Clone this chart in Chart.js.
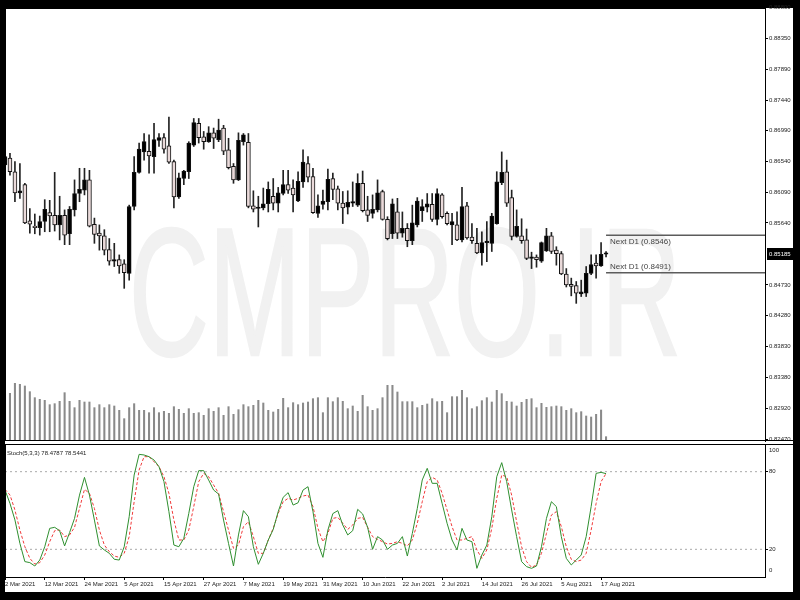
<!DOCTYPE html>
<html><head><meta charset="utf-8">
<script src="https://cdn.jsdelivr.net/npm/chart.js@4.4.0/dist/chart.umd.min.js"></script>
<style>
html,body{margin:0;padding:0;background:#000;width:800px;height:600px;overflow:hidden}
#panel{position:absolute;left:5px;top:8px;width:788px;height:584px;background:#fff}
#c1{position:absolute;left:0;top:0;width:800px;height:442px}
#c2{position:absolute;left:0;top:442px;width:800px;height:158px}
</style></head><body>
<div id="panel"></div>
<canvas id="c1" width="800" height="442"></canvas>
<canvas id="c2" width="800" height="158"></canvas>
<script>
// ---- data (daily, 2 Mar 2021 .. 18 Aug 2021) ----
const open = [
0.8649,0.8659,0.8639,0.8608,0.8620,0.8567,0.8558,0.8557,0.8566,0.8579,
0.8575,0.8561,0.8575,0.8548,0.8583,0.8607,0.8612,0.8627,0.8562,0.8549,
0.8545,0.8525,0.8508,0.8510,0.8504,0.8490,0.8588,0.8638,0.8668,0.8669,
0.8661,0.8685,0.8689,0.8677,0.8654,0.8602,0.8629,0.8639,0.8678,0.8710,
0.8690,0.8683,0.8696,0.8686,0.8703,0.8671,0.8647,0.8627,0.8683,0.8682,
0.8589,0.8585,0.8586,0.8592,0.8603,0.8593,0.8607,0.8620,0.8615,0.8596,
0.8624,0.8651,0.8632,0.8578,0.8591,0.8595,0.8629,0.8614,0.8593,0.8587,
0.8593,0.8590,0.8622,0.8583,0.8578,0.8583,0.8610,0.8569,0.8548,0.8580,
0.8549,0.8556,0.8538,0.8561,0.8582,0.8587,0.8591,0.8569,0.8605,0.8578,
0.8561,0.8561,0.8539,0.8589,0.8543,0.8534,0.8520,0.8535,0.8534,0.8563,
0.8623,0.8639,0.8601,0.8544,0.8545,0.8539,0.8512,0.8514,0.8508,0.8523,
0.8545,0.8524,0.8519,0.8489,0.8474,0.8472,0.8460,0.8461,0.8490,0.8505,
0.8501,0.85180];
const high = [
0.8666,0.8666,0.8654,0.8651,0.8622,0.8585,0.8577,0.8574,0.8598,0.8597,
0.8638,0.8603,0.8583,0.8588,0.8627,0.8644,0.8644,0.8641,0.8571,0.8561,
0.8554,0.8541,0.8534,0.8517,0.8510,0.8590,0.8661,0.8681,0.8695,0.8693,
0.8710,0.8695,0.8695,0.8719,0.8656,0.8637,0.8641,0.8683,0.8717,0.8717,
0.8698,0.8705,0.8703,0.8716,0.8707,0.8688,0.8651,0.8696,0.8695,0.8695,
0.8611,0.8603,0.8615,0.8624,0.8629,0.8616,0.8641,0.8641,0.8627,0.8639,
0.8671,0.8661,0.8644,0.8605,0.8612,0.8643,0.8637,0.8618,0.8610,0.8611,
0.8624,0.8636,0.8640,0.8603,0.8605,0.8627,0.8612,0.8573,0.8599,0.8600,
0.8580,0.8563,0.8590,0.8601,0.8598,0.8607,0.8607,0.8614,0.8607,0.8580,
0.8578,0.8580,0.8616,0.8594,0.8563,0.8556,0.8551,0.8566,0.8578,0.8639,
0.8668,0.8656,0.8612,0.8583,0.8570,0.8555,0.8521,0.8517,0.8536,0.8556,
0.8550,0.8529,0.8522,0.8497,0.8483,0.8478,0.8480,0.8500,0.8517,0.8517,
0.8535,0.8522];
const low = [
0.8644,0.8634,0.8595,0.8600,0.8563,0.8549,0.8548,0.8546,0.8551,0.8551,
0.8552,0.8539,0.8532,0.8532,0.8574,0.8595,0.8605,0.8558,0.8534,0.8524,
0.8517,0.8502,0.8500,0.8490,0.8468,0.8480,0.8583,0.8637,0.8656,0.8637,
0.8637,0.8676,0.8666,0.8651,0.8586,0.8600,0.8620,0.8629,0.8676,0.8681,
0.8672,0.8682,0.8673,0.8683,0.8664,0.8643,0.8622,0.8626,0.8678,0.8586,
0.8580,0.8558,0.8583,0.8580,0.8583,0.8580,0.8605,0.8607,0.8580,0.8595,
0.8616,0.8624,0.8578,0.8572,0.8584,0.8583,0.8598,0.8583,0.8563,0.8577,
0.8588,0.8588,0.8580,0.8566,0.8571,0.8580,0.8568,0.8539,0.8541,0.8541,
0.8543,0.8529,0.8532,0.8558,0.8566,0.8580,0.8566,0.8561,0.8571,0.8561,
0.8532,0.8538,0.8536,0.8540,0.8534,0.8519,0.8502,0.8507,0.8522,0.8562,
0.8620,0.8588,0.8539,0.8543,0.8534,0.8510,0.8497,0.8499,0.8506,0.8522,
0.8519,0.8502,0.8488,0.8470,0.8457,0.8446,0.8456,0.8456,0.8488,0.8483,
0.8500,0.8514];
const close = [
0.8661,0.8639,0.8608,0.8611,0.8564,0.8562,0.8557,0.8566,0.8584,0.8574,
0.8561,0.8575,0.8546,0.8584,0.8607,0.8613,0.8627,0.8559,0.8547,0.8545,
0.8524,0.8508,0.8510,0.8501,0.8491,0.8588,0.8638,0.8672,0.8683,0.8662,
0.8686,0.8689,0.8672,0.8653,0.8602,0.8630,0.8640,0.8681,0.8711,0.8689,
0.8683,0.8696,0.8688,0.8700,0.8669,0.8645,0.8627,0.8685,0.8693,0.8588,
0.8584,0.8587,0.8592,0.8613,0.8593,0.8608,0.8620,0.8612,0.8605,0.8625,
0.8653,0.8631,0.8579,0.8589,0.8596,0.8628,0.8613,0.8593,0.8586,0.8594,
0.8595,0.8622,0.8582,0.8575,0.8584,0.8608,0.8569,0.8541,0.8592,0.8549,
0.8556,0.8538,0.8564,0.8596,0.8588,0.8592,0.8569,0.8607,0.8573,0.8563,
0.8566,0.8539,0.8588,0.8542,0.8538,0.8520,0.8535,0.8537,0.8574,0.8624,
0.8638,0.8593,0.8544,0.8559,0.8538,0.8512,0.8514,0.8510,0.8535,0.8545,
0.8522,0.8519,0.8489,0.8473,0.8471,0.8461,0.8463,0.8490,0.8503,0.8501,
0.8518,0.85185];
const volume = [
1400,1430,1730,1700,1650,1480,1300,1250,1220,1090,
1120,1190,1450,1190,1000,1220,1170,1170,1000,1090,
1000,1090,1050,920,670,1000,1120,920,920,850,
1000,850,890,830,1030,950,830,970,830,850,
770,970,890,1000,770,1030,800,940,1090,1030,
1070,1220,1140,920,870,950,1280,1000,1150,1090,
1140,1170,1270,1300,850,1300,1180,1300,1190,970,
1050,890,1370,1030,920,970,1300,1670,1670,1470,
1180,1180,1180,1000,1070,1110,1270,1180,1190,850,
1330,1330,1520,1300,970,1030,1210,1300,1170,1520,
1420,1190,1170,1050,1160,1250,1270,1000,1130,1010,
1030,1050,1030,920,970,850,880,750,720,800,
930,130];
const stochK = [
65.8,55.5,42.7,24.6,10.5,9.7,7.1,11.7,22,36.2,
37,34.4,22.6,32.9,43.9,61.9,75.6,61.9,42.6,22.6,
19.5,16.9,12.3,11.7,22,45.2,77.4,93.4,92.9,91.6,
89,83.9,72.3,49.1,23.3,22,28.5,47.8,68.4,80.8,
80.8,73.5,65.8,62.7,42.6,24.6,7.1,31.1,49.9,45.2,
22,8.4,16.9,27.2,35.4,49.1,60.2,63.8,54.2,56,
65.8,68.4,49.1,24.6,13.8,34.9,47.6,49.9,38.8,31.1,
34.4,50.9,47.3,37,20,29.8,27.2,20,23.3,24.6,
29.8,14.8,32.3,51.6,73.6,82.6,71,71,55.5,40.1,
27.2,19.5,36.2,27.2,25.9,5.3,15.6,23.3,45.2,76.1,
87,72.3,50.4,29.8,10.5,6.6,5.3,7.1,22,43.9,
56.8,53,29.8,13,7.9,11.7,15.6,29.8,53,78.7,
79.5,78.4787];
const stochD = [
66.3,62,50.4,34.9,22,13,8.6,9.7,15.6,25.9,
34.4,34.9,29.8,31.1,37,51.6,66.3,63.3,51.6,34.9,
23.3,18.2,14.8,13.8,16.9,29.8,56.8,81.3,91.6,91.6,
87.7,83.9,76.1,63.3,42.6,27.2,27.2,34.9,53,72.3,
78.7,76.1,69.7,63.3,49.1,34.9,20.8,23.3,37.5,41.3,
29.8,16.9,16.9,27.2,36.2,47.8,56.8,59.4,58.1,59.4,
61.2,62,53,36.2,25.9,32.3,43.9,44.7,40.1,35.4,
38.8,43.9,44.7,37,29.8,27.7,25.9,24.1,24.6,25.9,
24.6,22.6,27.2,40.1,56.8,72.3,75.6,73.6,63.3,50.4,
37.5,27.2,27.2,28.5,29.8,19.5,13,19.5,36.2,59.4,
77.4,76.1,61.9,41.3,22,10.5,6.1,7.9,16.9,32.3,
46.5,49.1,37.5,22,12.3,10.5,11.7,16.9,34.9,55.5,
72.3,78.5441];
const dateTickIndex = [0,8,16,24,32,40,48,56,64,72,80,88,96,104,112,120];
const dateTickLabels = ['2 Mar 2021','12 Mar 2021','24 Mar 2021','5 Apr 2021','15 Apr 2021','27 Apr 2021','7 May 2021','19 May 2021','31 May 2021','10 Jun 2021','22 Jun 2021','2 Jul 2021','14 Jul 2021','26 Jul 2021','5 Aug 2021','17 Aug 2021'];
const priceTicks = [0.82470,0.82920,0.83380,0.83830,0.84280,0.84730,0.85640,0.86090,0.86540,0.86990,0.87440,0.87890,0.88350,0.88800];
const nextD1 = [0.8546, 0.8491];
const stochLevels = [80, 20];
const stochEdgeLabels = [100, 0];
const watermarkText = 'CMPRO.IR';
const stochName = 'Stoch(5,3,3)';

// ---- rendering ----
const FONT = '"Liberation Sans", Arial, sans-serif';
const X_MAX = 153;
const N = open.length;
const lastIdx = N - 1;
const currentPrice = close[lastIdx];

const wickData = low.map((l, i) => ({x: i, y: [l, high[i]]}));
const bodyData = open.map((o, i) => ({x: i, y: [o, close[i]]}));
const bodyColors = open.map((o, i) => close[i] >= o ? '#000000' : '#eadada');
const volData = volume.map((v, i) => ({x: i, y: v}));

function noPad(s) { s.paddingTop = 0; s.paddingBottom = 0; s.paddingLeft = 0; s.paddingRight = 0; }

const wmPlugin = {
  id: 'wm',
  beforeDatasetsDraw(chart) {
    const ctx = chart.ctx;
    ctx.save();
    ctx.fillStyle = '#f1f1f1';
    ctx.strokeStyle = '#f1f1f1';
    ctx.lineWidth = 2.5;
    ctx.font = '181px ' + FONT;
    ctx.textAlign = 'center';
    ctx.textBaseline = 'alphabetic';
    ctx.translate(405, 355);
    ctx.scale(0.61, 1);
    ctx.fillText(watermarkText, 0, 0);
    ctx.strokeText(watermarkText, 0, 0);
    ctx.restore();
  }
};
const mainDeco = {
  id: 'mainDeco',
  afterDraw(chart) {
    const ctx = chart.ctx, a = chart.chartArea, ys = chart.scales.y;
    ctx.save();
    ctx.strokeStyle = '#000'; ctx.lineWidth = 1;
    ctx.beginPath();
    ctx.moveTo(a.left + 0.5, a.top); ctx.lineTo(a.left + 0.5, a.bottom);
    ctx.moveTo(a.left, a.top + 0.5); ctx.lineTo(a.right, a.top + 0.5);
    ctx.moveTo(a.left, a.bottom - 0.5); ctx.lineTo(a.right + 28, a.bottom - 0.5);
    ctx.stroke();
    ctx.fillStyle = '#444';
    ctx.font = '8px ' + FONT;
    ctx.textAlign = 'left';
    const y1 = ys.getPixelForValue(nextD1[0]);
    const y2 = ys.getPixelForValue(nextD1[1]);
    ctx.textBaseline = 'top';
    ctx.fillText('Next D1 (' + nextD1[0].toFixed(4) + ')', 610, y1 + 3);
    ctx.textBaseline = 'bottom';
    ctx.fillText('Next D1 (' + nextD1[1].toFixed(4) + ')', 610, y2 - 2);
    const yc = ys.getPixelForValue(currentPrice);
    ctx.fillStyle = '#000';
    ctx.fillRect(a.right + 2, Math.round(yc) - 6, 26, 12);
    ctx.fillStyle = '#fff';
    ctx.font = '6px ' + FONT;
    ctx.textBaseline = 'middle';
    ctx.fillText(currentPrice.toFixed(5), a.right + 4, yc);
    ctx.restore();
  }
};

new Chart(document.getElementById('c1'), {
  type: 'bar',
  data: {
    datasets: [
      {type: 'line', data: [{x: lastIdx, y: nextD1[0]}, {x: X_MAX, y: nextD1[0]}], borderColor: '#5c5c5c', borderWidth: 1.5, pointRadius: 0, order: 1},
      {type: 'line', data: [{x: lastIdx, y: nextD1[1]}, {x: X_MAX, y: nextD1[1]}], borderColor: '#5c5c5c', borderWidth: 1.5, pointRadius: 0, order: 1},
      {data: bodyData, backgroundColor: bodyColors, borderColor: '#111', borderWidth: 1, borderSkipped: false, barThickness: 4, minBarLength: 1.5, grouped: false, order: 2},
      {data: wickData, backgroundColor: '#222', barThickness: 1, grouped: false, order: 3},
      {data: volData, backgroundColor: '#8a8a8a', barThickness: 1.4, grouped: false, yAxisID: 'yv', order: 4}
    ]
  },
  options: {
    responsive: false, animation: false, devicePixelRatio: 1,
    layout: {padding: {left: 5, top: 8, right: 7, bottom: 1}},
    plugins: {legend: {display: false}, tooltip: {enabled: false}},
    scales: {
      x: {type: 'linear', min: 0, max: X_MAX, offset: false, display: false},
      y: {
        position: 'right', min: 0.82442, max: 0.88790,
        afterBuildTicks: s => { s.ticks = priceTicks.map(v => ({value: v})); },
        afterFit: s => { s.width = 28; noPad(s); },
        grid: {drawOnChartArea: false, drawTicks: true, tickLength: 3, color: '#000'},
        border: {display: true, color: '#000'},
        ticks: {autoSkip: false, padding: 1, color: '#222', font: {size: 6, family: FONT}, callback: v => Number(v).toFixed(5)}
      },
      yv: {display: false, min: 0, max: 12990}
    }
  },
  plugins: [wmPlugin, mainDeco]
});

const stochDeco = {
  id: 'stochDeco',
  afterDraw(chart) {
    const ctx = chart.ctx, a = chart.chartArea, ys = chart.scales.y;
    ctx.save();
    ctx.strokeStyle = '#000'; ctx.lineWidth = 1;
    ctx.beginPath();
    ctx.moveTo(a.left + 0.5, a.top); ctx.lineTo(a.left + 0.5, a.bottom);
    ctx.moveTo(a.left, a.top + 0.5); ctx.lineTo(a.right + 28, a.top + 0.5);
    ctx.stroke();
    ctx.fillStyle = '#222';
    ctx.font = '6px ' + FONT;
    ctx.textAlign = 'left'; ctx.textBaseline = 'middle';
    ctx.fillText(stochName + ' ' + stochK[lastIdx].toFixed(4) + ' ' + stochD[lastIdx].toFixed(4), 7, a.top + 9);
    ctx.fillText(String(stochEdgeLabels[0]), a.right + 4, ys.getPixelForValue(stochEdgeLabels[0]) + 5);
    ctx.fillText(String(stochEdgeLabels[1]), a.right + 4, ys.getPixelForValue(stochEdgeLabels[1]) - 5);
    ctx.restore();
  }
};

new Chart(document.getElementById('c2'), {
  type: 'line',
  data: {
    datasets: [
      {data: stochK.map((v, i) => ({x: i, y: v})), borderColor: '#2f8f2f', borderWidth: 1, pointRadius: 0, tension: 0, order: 1},
      {data: stochD.map((v, i) => ({x: i, y: v})), borderColor: '#f03a3a', borderWidth: 1, borderDash: [3, 2], pointRadius: 0, tension: 0, order: 2},
      ...stochLevels.map(l => ({data: [{x: 0, y: l}, {x: X_MAX, y: l}], borderColor: '#aaaaaa', borderWidth: 1, borderDash: [2, 3], pointRadius: 0, order: 3}))
    ]
  },
  options: {
    responsive: false, animation: false, devicePixelRatio: 1,
    layout: {padding: {left: 5, top: 2, right: 7, bottom: 8}},
    plugins: {legend: {display: false}, tooltip: {enabled: false}},
    scales: {
      x: {
        type: 'linear', min: 0, max: X_MAX, offset: false,
        afterBuildTicks: s => { s.ticks = dateTickIndex.map(v => ({value: v})); },
        afterFit: s => { s.height = 15; noPad(s); },
        grid: {drawOnChartArea: false, drawTicks: true, tickLength: 3, color: '#000'},
        border: {display: true, color: '#000'},
        ticks: {align: 'start', autoSkip: false, maxRotation: 0, padding: 1, color: '#222', font: {size: 6, family: FONT},
          callback: v => dateTickLabels[dateTickIndex.indexOf(v)]}
      },
      y: {
        position: 'right', min: -1.4, max: 101.4,
        afterBuildTicks: s => { s.ticks = stochLevels.map(v => ({value: v})); },
        afterFit: s => { s.width = 28; noPad(s); },
        grid: {drawOnChartArea: false, drawTicks: true, tickLength: 3, color: '#000'},
        border: {display: true, color: '#000'},
        ticks: {autoSkip: false, padding: 1, color: '#222', font: {size: 6, family: FONT}, callback: v => String(v)}
      }
    }
  },
  plugins: [stochDeco]
});
</script>
</body></html>
